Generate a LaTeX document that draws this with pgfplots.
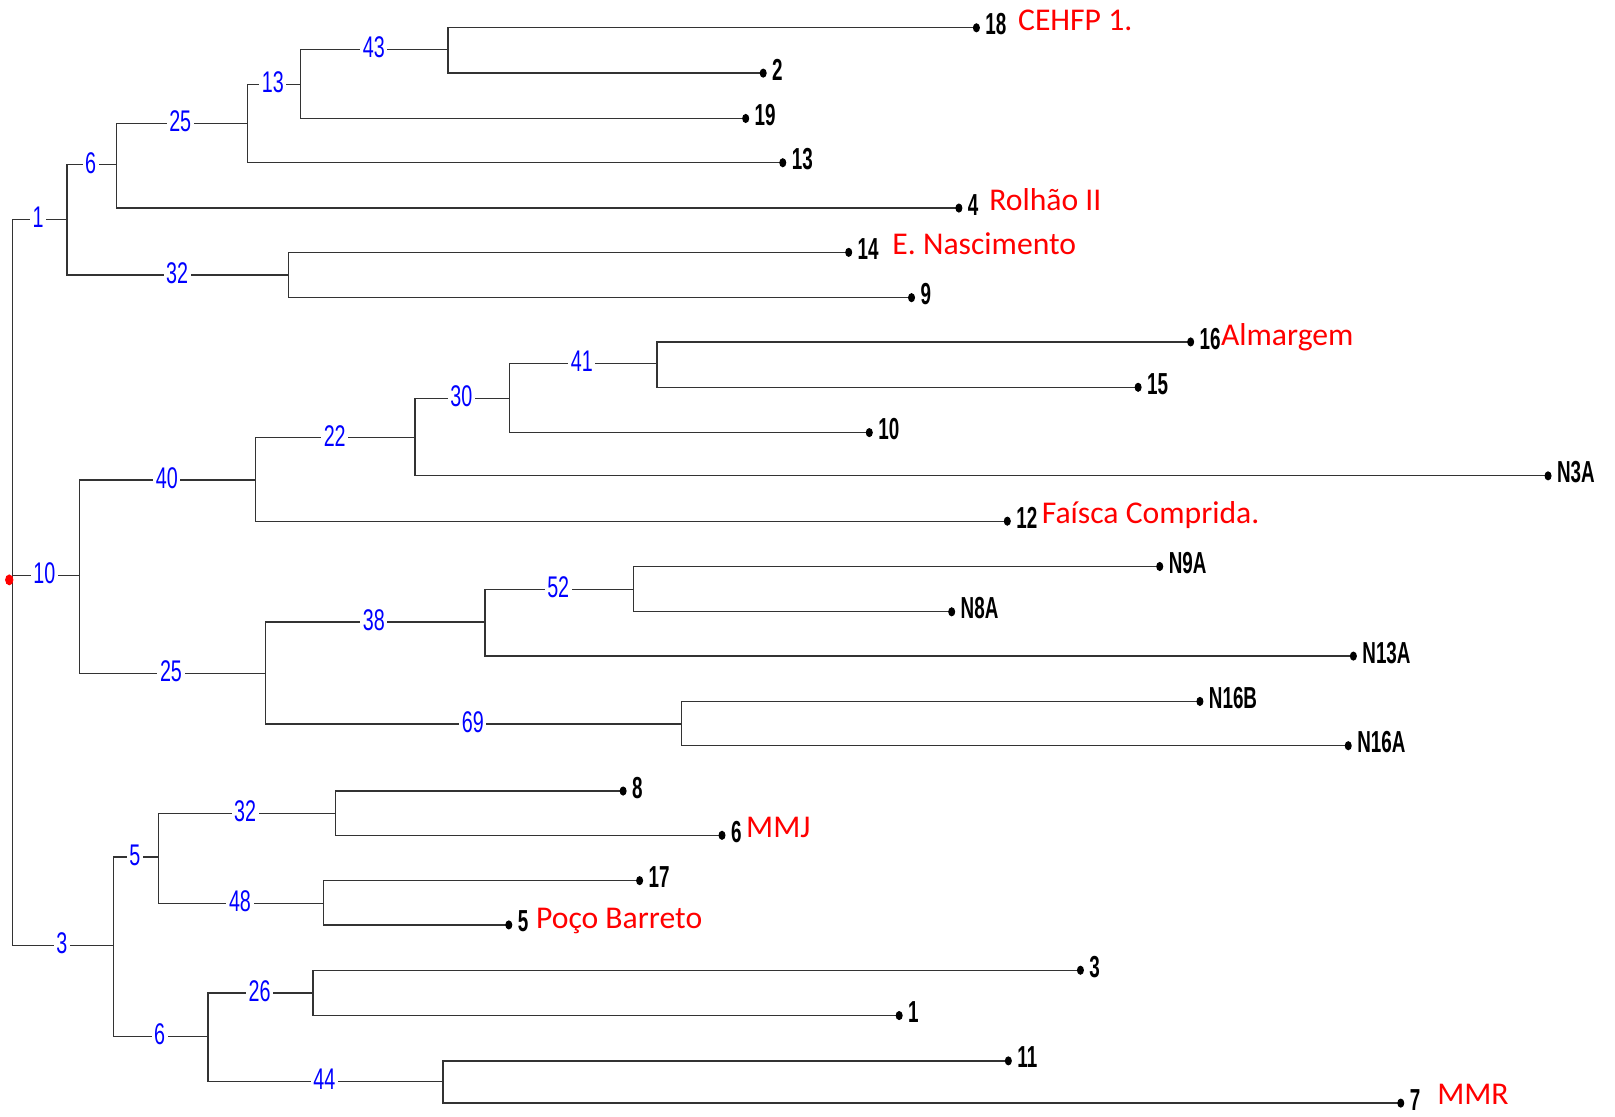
\documentclass[border=0pt]{standalone}
\usepackage{pgfplots}
\pgfplotsset{compat=1.18}
\usepackage{pgfplotstable}
\usepackage{fontspec}
\setmainfont{Liberation Sans}
\newfontfamily\leaffont{Liberation Sans}[FakeStretch=0.62]
\newfontfamily\bluefont{Liberation Sans}[FakeStretch=0.66]
\newfontfamily\redfont{Carlito}

% leaf tips: x, y (pixel-like units, y downward), label
\pgfplotstableread{
x y label
948 27 18
741 71 2
724 115 19
760 158 13
931 202 4
824 245 14
885 289 9
1156 332 16
1105 376 15
844 420 10
1503 462 N3A
978 506 12
1126 550 N9A
924 594 N8A
1314 637 N13A
1165 681 N16B
1309 724 N16A
605 768 8
701 811 6
621 855 17
494 898 5
1049 942 3
873 986 1
979 1030 11
1360 1071 7
}\leaves

% branch support values
\pgfplotstableread{
x y label
37 211 1
88 158 6
175 118 25
265 80 13
363 46 43
172 265 32
43 557 10
162 464 40
325 423 22
448 385 30
565 351 41
166 652 25
363 602 38
542 570 52
459 701 69
60 916 3
131 830 5
238 788 32
233 875 48
155 1004 6
252 962 26
315 1048 44
}\support

% site names
\pgfplotstableread{
x y label
988 30 {CEHFP 1.}
960 204 {Rolhão II}
866 247 {E. Nascimento}
1185 335 {Almargem}
1011 508 {Faísca Comprida.}
724 813 {MMJ}
520 901 {Poço Barreto}
1395 1072 {MMR}
}\sites

\begin{document}
\begin{tikzpicture}
\begin{axis}[
  scale only axis,
  width=627.2pt, height=433.6pt,
  xmin=0, xmax=1568, ymin=0, ymax=1084,
  y dir=reverse,
  hide axis,
  clip=false,
  unbounded coords=jump,
]
% invisible frame for bounding box
\addplot[draw=none, mark=none] coordinates {(0,0) (1568,1084)};

% tree branches
\addplot[black!80, line width=0.5pt, mark=none] coordinates {
 (65,213)(12,213)(12,918)(110,918) (nan,nan)
 (12,559)(77,559) (nan,nan)
 (113,160)(65,160)(65,267)(280,267) (nan,nan)
 (240,120)(113,120)(113,202)(931,202) (nan,nan)
 (292,82)(240,82)(240,158)(760,158) (nan,nan)
 (435,48)(292,48)(292,115)(724,115) (nan,nan)
 (948,27)(435,27)(435,71)(741,71) (nan,nan)
 (824,245)(280,245)(280,289)(885,289) (nan,nan)
 (248,466)(77,466)(77,654)(258,654) (nan,nan)
 (403,425)(248,425)(248,506)(978,506) (nan,nan)
 (495,387)(403,387)(403,462)(1503,462) (nan,nan)
 (638,353)(495,353)(495,420)(844,420) (nan,nan)
 (1156,332)(638,332)(638,376)(1105,376) (nan,nan)
 (471,604)(258,604)(258,703)(662,703) (nan,nan)
 (615,572)(471,572)(471,637)(1314,637) (nan,nan)
 (1126,550)(615,550)(615,594)(924,594) (nan,nan)
 (1165,681)(662,681)(662,724)(1309,724) (nan,nan)
 (154,832)(110,832)(110,1006)(202,1006) (nan,nan)
 (326,790)(154,790)(154,877)(314,877) (nan,nan)
 (605,768)(326,768)(326,811)(701,811) (nan,nan)
 (621,855)(314,855)(314,898)(494,898) (nan,nan)
 (304,964)(202,964)(202,1050)(430,1050) (nan,nan)
 (1049,942)(304,942)(304,986)(873,986) (nan,nan)
 (979,1030)(430,1030)(430,1071)(1360,1071)
};

% root marker
\addplot[only marks, mark=*, mark size=1.4pt, red, mark options={yscale=1.35}] coordinates {(9,563)};

% leaf dots and labels
\addplot[only marks, mark=*, mark size=1.15pt, black, mark options={yscale=1.35},
  nodes near coords, point meta=explicit symbolic,
  nodes near coords style={anchor=west, inner sep=0pt, xshift=3.3pt, yshift=1.3pt,
    font={\leaffont\bfseries\fontsize{11.8}{12}\selectfont}, text=black}]
  table[x=x, y=y, meta=label] {\leaves};

% support values
\addplot[only marks, mark=none,
  nodes near coords, point meta=explicit symbolic,
  nodes near coords style={anchor=center, fill=white, inner xsep=1pt, inner ysep=0pt,
    font={\bluefont\fontsize{11.6}{12}\selectfont}, text=blue}]
  table[x=x, y=y, meta=label] {\support};

% site names
\addplot[only marks, mark=none,
  nodes near coords, point meta=explicit symbolic,
  nodes near coords style={anchor=base west, inner sep=0pt,
    font={\redfont\fontsize{12.3}{13}\selectfont}, text=red}]
  table[x=x, y=y, meta=label] {\sites};
\end{axis}
\end{tikzpicture}
\end{document}
